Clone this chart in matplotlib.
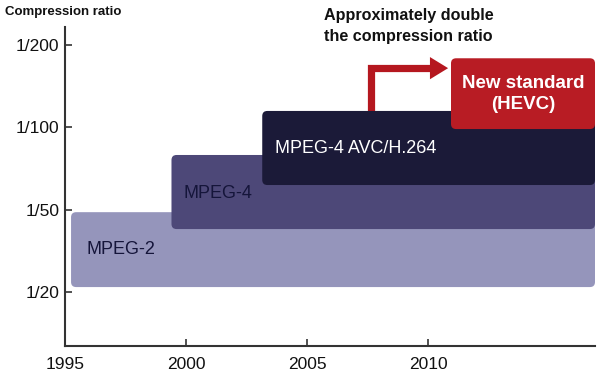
import matplotlib
matplotlib.use("Agg")
import matplotlib.pyplot as plt
from matplotlib.patches import FancyBboxPatch, Polygon

plt.rcParams['font.family'] = ['Liberation Sans', 'DejaVu Sans']

# ---- data ----
standards = ["MPEG-2", "MPEG-4", "MPEG-4 AVC/H.264", "New standard\n(HEVC)"]
start_years = [1995.25, 1999.4, 2003.15, 2010.95]
end_years = [2016.9, 2016.9, 2016.9, 2016.9]
bottoms = [0.06, 0.765, 1.3, 1.98]
tops = [0.97, 1.665, 2.2, 2.84]
ratio_labels = ["1/20", "1/50", "1/100", "1/200"]
ratio_pos = [0, 1, 2, 3]
year_ticks = [1995, 2000, 2005, 2010]

bar_colors = ["#9595bb", "#4d4878", "#1b1a38", "#b81c24"]
text_colors = ["#15153a", "#15153a", "white", "white"]

fig = plt.figure(figsize=(6, 3.71), dpi=100)
ax = fig.add_axes([65/600, 25/371, 530/600, 319/371])
ax.set_xlim(1995, 2016.9)
ax.set_ylim(-0.656, 3.22)

r = 0.21
aspect = 0.294
for i, name in enumerate(standards):
    p = FancyBboxPatch((start_years[i], bottoms[i]),
                       end_years[i] - start_years[i], tops[i] - bottoms[i],
                       boxstyle=f"round,pad=0,rounding_size={r}",
                       mutation_aspect=aspect,
                       facecolor=bar_colors[i], edgecolor="none",
                       zorder=2 + i * 2)
    ax.add_patch(p)

# labels
ax.text(start_years[0] + 0.65, (bottoms[0] + tops[0]) / 2, standards[0],
        ha="left", va="center", fontsize=13, color=text_colors[0], zorder=10)
ax.text(start_years[1] + 0.5, (bottoms[1] + tops[1]) / 2 - 0.015, standards[1],
        ha="left", va="center", fontsize=13, color=text_colors[1], zorder=10)
ax.text(start_years[2] + 0.53, (bottoms[2] + tops[2]) / 2 - 0.01, standards[2],
        ha="left", va="center", fontsize=13, color=text_colors[2], zorder=10)
ax.text((start_years[3] + end_years[3]) / 2, (bottoms[3] + tops[3]) / 2,
        standards[3], ha="center", va="center", fontsize=13.5,
        fontweight="bold", color=text_colors[3], linespacing=1.3, zorder=10)

# arrow (drawn under AVC bar)
stem_x = 2007.66
arrow_y = 2.72
head_base = 2010.08
tip = 2010.83
ax.plot([stem_x, stem_x, head_base + 0.05], [tops[2] - 0.1, arrow_y, arrow_y],
        color="#b5171f", linewidth=5.2, solid_joinstyle="miter",
        solid_capstyle="butt", zorder=5)
ax.add_patch(Polygon([[head_base, arrow_y + 0.135], [tip, arrow_y],
                      [head_base, arrow_y - 0.135]],
                     closed=True, facecolor="#b5171f", edgecolor="none",
                     zorder=5))
ax.text(2009.2, 3.23, "Approximately double\nthe compression ratio",
        ha="center", va="center", fontsize=11.6, fontweight="bold",
        color="#111111", linespacing=1.45, zorder=10)

# axes styling
for s in ["top", "right"]:
    ax.spines[s].set_visible(False)
for s in ["left", "bottom"]:
    ax.spines[s].set_color("#333333")
    ax.spines[s].set_linewidth(1.5)
ax.set_yticks(ratio_pos)
ax.set_yticklabels(ratio_labels)
ax.set_xticks(year_ticks)
ax.set_xticklabels([str(y) for y in year_ticks])
ax.tick_params(axis="both", direction="in", length=5, width=1.2,
               color="#333333", labelsize=12.5, labelcolor="#111111")
ax.tick_params(axis="y", pad=4)
ax.tick_params(axis="x", pad=8)

fig.text(5/600, 1 - 12/371, "Compression ratio", ha="left", va="center",
         fontsize=9.5, fontweight="bold", color="#111111")

fig.savefig("out.png", dpi=100)
